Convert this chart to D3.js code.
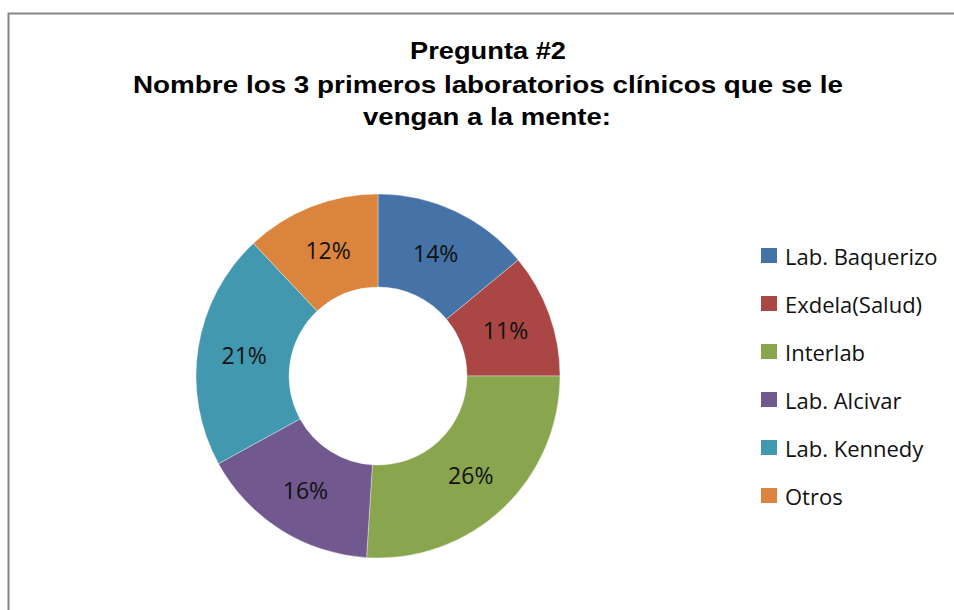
<!DOCTYPE html>
<html><head><meta charset="utf-8">
<script src="https://cdn.jsdelivr.net/npm/d3@7"></script>
<style>body{margin:0;background:#fff}svg{display:block}</style>
</head><body>
<svg id="c" width="954" height="610"></svg>
<script>
const categories = ["Lab. Baquerizo","Exdela(Salud)","Interlab","Lab. Alcivar","Lab. Kennedy","Otros"];
const values = [14, 11, 26, 16, 21, 12];
const colors = ["#4572A7","#AA4643","#89A54E","#71588F","#4198AF","#DB843D"];
const titleLines = ["Pregunta #2","Nombre los 3 primeros laboratorios clínicos que se le","vengan a la mente:"];

const svg = d3.select("#c");
svg.append("rect").attr("x",8.5).attr("y",13.5).attr("width",1000).attr("height",700)
  .attr("fill","#fff").attr("stroke","#868686").attr("stroke-width",2);

const tx=[488,488,487], ty=[59,92.5,124.5], tl=[156,710,248];
titleLines.forEach((t,i)=>svg.append("text").attr("text-anchor","middle")
  .attr("x",tx[i]).attr("y",ty[i])
  .attr("font-family","Liberation Sans, Arial, sans-serif").attr("font-weight","bold")
  .attr("font-size",23).attr("fill","#000")
  .attr("textLength",tl[i]).attr("lengthAdjust","spacingAndGlyphs").text(t));

const cx=378, cy=376, R=182, r0=89;
const pie = d3.pie().sort(null).value(d=>d)(values);
const arc = d3.arc().innerRadius(r0).outerRadius(R);
const g = svg.append("g").attr("transform",`translate(${cx},${cy})`);
g.selectAll("path").data(pie).join("path").attr("d",arc)
  .attr("fill",(d,i)=>colors[i]).attr("stroke","#fff").attr("stroke-width",0.6).attr("stroke-opacity",0.6);
g.selectAll("text").data(pie).join("text")
  .attr("transform",d=>`translate(${arc.centroid(d)})`)
  .attr("text-anchor","middle").attr("dy","0.38em")
  .attr("font-family","Open Sans, Noto Sans, sans-serif").attr("font-size",23).attr("fill","#111")
  .text(d=>d.value+"%");

const leg = svg.append("g");
categories.forEach((c,i)=>{
  const y = 256 + i*48;
  leg.append("rect").attr("x",761).attr("y",y-8).attr("width",16).attr("height",15).attr("fill",colors[i]);
  leg.append("text").attr("x",785).attr("y",y+8.5)
    .attr("font-family","Open Sans, Noto Sans, sans-serif").attr("font-size",22).attr("fill","#111").text(c);
});
</script>
</body></html>
